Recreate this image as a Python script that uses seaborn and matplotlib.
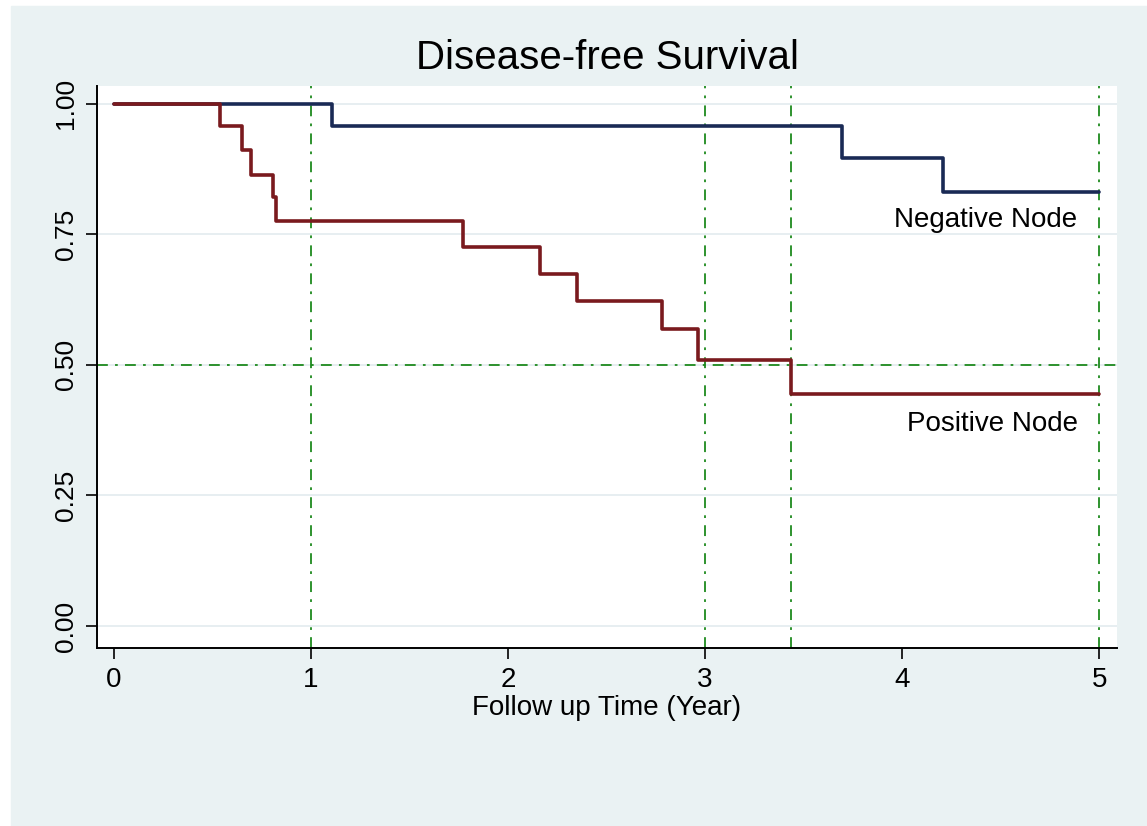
import matplotlib
matplotlib.use('Agg')
import matplotlib.pyplot as plt
import matplotlib.patches as mpatches
import seaborn as sns
import pandas as pd

# Kaplan-Meier step values
neg_time = [0.0, 1.107, 3.695, 4.208, 5.0]
neg_surv = [1.0, 0.958, 0.896, 0.831, 0.831]

pos_time = [0.0, 0.538, 0.652, 0.698, 0.805, 0.820, 1.770, 2.162, 2.349, 2.783, 2.966, 3.437, 5.0]
pos_surv = [1.0, 0.958, 0.912, 0.864, 0.821, 0.776, 0.725, 0.674, 0.623, 0.569, 0.510, 0.444, 0.444]

ref_x = [1, 3, 3.437, 5]
ref_y = 0.5

x_ticks = [0, 1, 2, 3, 4, 5]
y_ticks = [0.0, 0.25, 0.5, 0.75, 1.0]
y_tick_labels = ['0.00', '0.25', '0.50', '0.75', '1.00']

sns.set_style('white')
plt.rcParams['font.family'] = ['Liberation Sans', 'DejaVu Sans']
plt.rcParams['text.color'] = 'black'
plt.rcParams['xtick.color'] = 'black'
plt.rcParams['ytick.color'] = 'black'
plt.rcParams['axes.labelcolor'] = 'black'

bg = '#eaf2f3'
fig = plt.figure(figsize=(11.47, 8.26), dpi=100, facecolor='white')
fig.patches.append(mpatches.Rectangle((11 / 1147, 0), 1, 1 - 6 / 826,
                                      transform=fig.transFigure, color=bg, zorder=-5))
ax = fig.add_axes([97 / 1147, 1 - 648 / 826, (1117 - 97) / 1147, (648 - 86) / 826])
ax.set_facecolor('white')

df = pd.concat([
    pd.DataFrame({'time': neg_time, 'surv': neg_surv, 'group': 'Negative Node'}),
    pd.DataFrame({'time': pos_time, 'surv': pos_surv, 'group': 'Positive Node'}),
])

# horizontal grid
for yv in y_ticks:
    ax.axhline(yv, color='#e3ebef', lw=1.2, zorder=0)

# reference lines
green = '#1e8a1e'
for xv in ref_x:
    ax.axvline(xv, color=green, lw=1.3, dashes=(6, 4, 1.5, 4), zorder=1)
ax.axhline(ref_y, color=green, lw=1.3, dashes=(6, 4, 1.5, 4), zorder=1)

sns.lineplot(data=df, x='time', y='surv', hue='group', drawstyle='steps-post',
             palette={'Negative Node': '#1a2a55', 'Positive Node': '#7a1a1e'},
             lw=2.6, legend=False, ax=ax, zorder=3)

ax.text(4.89, 0.778, 'Negative Node', ha='right', va='center', fontsize=20)
ax.text(4.89, 0.387, 'Positive Node', ha='right', va='center', fontsize=20)

ax.set_xlim(-0.086, 5.09)
ax.set_ylim(-0.042, 1.034)
ax.set_xticks(x_ticks)
ax.set_xticklabels([str(t) for t in x_ticks], fontsize=20)
ax.set_yticks(y_ticks)
ax.set_yticklabels(y_tick_labels, fontsize=19, rotation=90, va='center')
ax.tick_params(axis='both', direction='out', length=8, width=1.2, color='black', pad=6)
ax.tick_params(axis='x', bottom=True)
ax.tick_params(axis='y', left=True)

for s in ['top', 'right']:
    ax.spines[s].set_visible(False)
for s in ['left', 'bottom']:
    ax.spines[s].set_color('black')
    ax.spines[s].set_linewidth(1.4)

ax.set_xlabel('Follow up Time (Year)', fontsize=20, labelpad=1)
ax.set_ylabel('')
fig.text(607 / 1147, 1 - 58 / 826, 'Disease-free Survival', ha='center', va='center', fontsize=29)

fig.savefig('out.png', dpi=100, facecolor=fig.get_facecolor())
